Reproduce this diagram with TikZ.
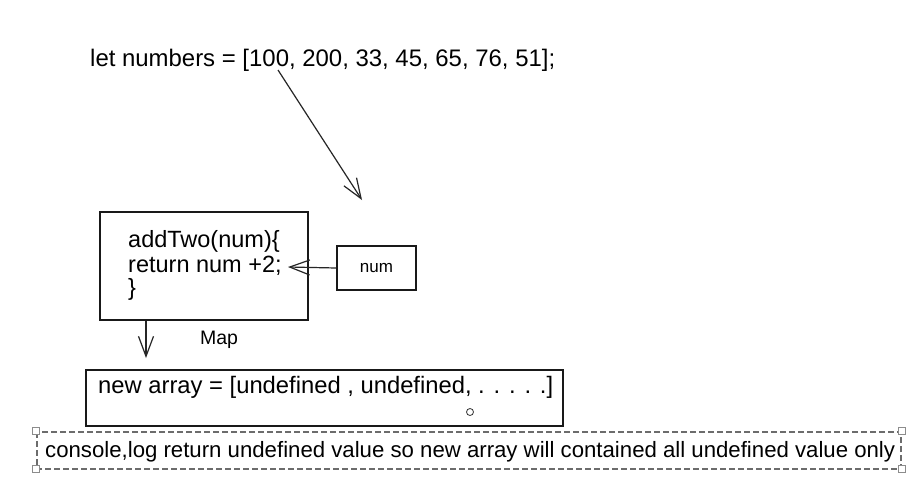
\documentclass[tikz,border=0pt]{standalone}
\usepackage{fontspec}
\setmainfont{Liberation Sans}
\usetikzlibrary{arrows.meta}
\newcommand\fitw[2]{\resizebox{#1}{!}{#2}}
\begin{document}
\begin{tikzpicture}[x=1pt,y=-1pt,
  sk/.style={draw=black!90, line width=1.5pt},
  skarrow/.style={draw=black!85, line width=1.2pt, -{Straight Barb[length=20pt,width=15pt,line width=1.2pt]}},
  txt/.style={inner sep=0pt, anchor=west, font=\fontsize{18}{22}\selectfont},
  code/.style={inner sep=0pt, anchor=west, font=\fontsize{23.5}{26}\selectfont},
  handle/.style={draw=gray!90, line width=0.9pt, fill=white, minimum size=7pt, inner sep=0pt}]
\useasboundingbox[fill=white] (0,0) rectangle (916,490);

\node[txt] (nums) at (90,60) {\fitw{465pt}{let numbers = [100, 200, 33, 45, 65, 76, 51];}};
\coordinate (a1s) at (278,70);
\coordinate (a1e) at (362,200);
\draw[skarrow] (a1s) -- (a1e);

\node[sk, minimum width=208pt, minimum height=108pt, inner sep=0pt] (fbox) at (204,266) {};
\node[code] (l1) at (128,241) {addTwo(num)\{};
\node[code] (l2) at (128,266) {return num +2;};
\node[code] (l3) at (128,289) {\}};

\node[sk, minimum width=79pt, minimum height=44pt, inner sep=0pt, font=\fontsize{17}{19}\selectfont] (num) at (376.5,268) {num};
\coordinate (a2e) at (288,267);
\draw[skarrow] (num.west) -- (a2e);

\coordinate (a3s) at (146,321);
\coordinate (a3e) at (146,358);
\draw[skarrow] (a3s) -- (a3e);
\node[inner sep=0pt, font=\fontsize{19.5}{22}\selectfont] (map) at (219,340) {Map};

\node[sk, minimum width=477pt, minimum height=56pt, inner sep=0pt] (arr) at (324.5,398) {};
\node[txt] (arrt) at (98,387) {\fitw{455pt}{new array = [undefined , undefined, . . . . .]}};
\node[draw=black!80, line width=0.8pt, circle, minimum size=7pt, inner sep=0pt] (rot) at (470,412) {};

\draw[draw=gray!85!black, line width=1.2pt, dash pattern=on 6pt off 3pt] (37,432) rectangle (901,469);
\node[txt] (note) at (45,452) {\fitw{850pt}{console,log return undefined value so new array will contained all undefined value only}};
\node[handle] (h1) at (36,431) {};
\node[handle] (h2) at (902,431) {};
\node[handle] (h3) at (36,469) {};
\node[handle] (h4) at (902,469) {};
\end{tikzpicture}
\end{document}
